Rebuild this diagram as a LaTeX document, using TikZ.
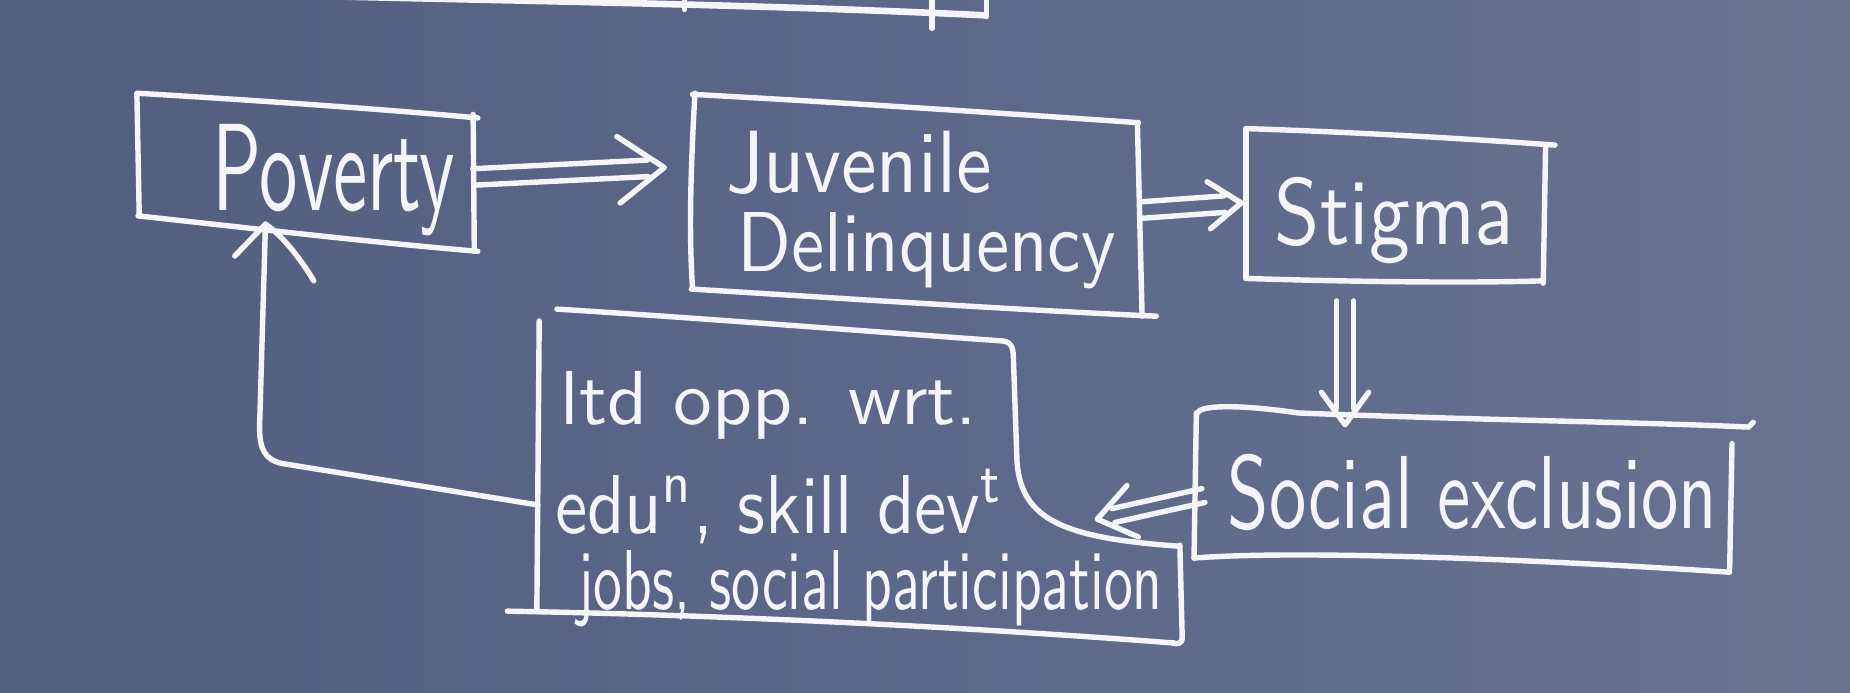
\documentclass[tikz,border=0pt]{standalone}
\usetikzlibrary{calc}
\definecolor{bgL}{HTML}{525E7E}
\definecolor{bgM}{HTML}{5B6889}
\definecolor{bgR}{HTML}{687390}
\definecolor{chalk}{HTML}{F4F5F8}
\tikzset{
  chalkline/.style={draw=chalk, line width=2.3pt, line cap=round, line join=round},
  lbl/.style={text=chalk, inner sep=0pt, anchor=base west, font=\sffamily},
}
\newcommand\hwtext[3]{\resizebox{#1pt}{#2pt}{#3}}
% double chalk arrow: from #1 to #2 (tip), half gap #3, head arm #4
\newcommand\chalkarrow[4]{%
  \coordinate (ca@end) at ($(#2)!7pt!(#1)$);
  \draw[chalkline] ($(#1)!#3!90:(#2)$) -- ($(ca@end)!#3!-90:(#1)$);
  \draw[chalkline] ($(#1)!#3!-90:(#2)$) -- ($(ca@end)!#3!90:(#1)$);
  \draw[chalkline] ($(#2)!#4!36:(#1)$) -- (#2) -- ($(#2)!#4!-36:(#1)$);
}
\begin{document}
\begin{tikzpicture}[x=0.5pt,y=-0.5pt]
\shade[left color=bgL, right color=bgR, middle color=bgM] (0,0) rectangle (1568,587);
\useasboundingbox (0,0) rectangle (1568,587);

% ---- partial box at the top edge
\draw[chalkline, line width=2.8pt] (285,-3) .. controls (450,1) and (650,4) .. (835,13);
\draw[chalkline] (836,-5) -- (836,14);
\draw[chalkline] (790,-2) -- (790,24);
\draw[chalkline] (580,-2) -- (580,8);

% ---- text nodes
\node[lbl] (pov)  at (180,178) {\hwtext{102.5}{36.5}{Poverty}};
\node[lbl] (juv1) at (615,163) {\hwtext{112.5}{26}{Juvenile}};
\node[lbl] (juv2) at (625,230) {\hwtext{160}{25}{Delinquency}};
\node[lbl] (stig) at (1080,207) {\hwtext{101.5}{28.5}{Stigma}};
\node[lbl] (soc)  at (1040,448) {\hwtext{207.5}{31.5}{Social exclusion}};
\node[lbl] (ltd1) at (475,360) {\hwtext{176.5}{22.5}{ltd opp. wrt.}};
\node[lbl] (ltd2) at (470,452) {\hwtext{190}{27}{edu\textsuperscript{n}, skill dev\textsuperscript{t}}};
\node[lbl] (ltd3) at (490,517) {\hwtext{247.5}{25}{jobs, social participation}};

% ---- hand-drawn boxes
% Poverty
\draw[chalkline] (118,182) -- (116,79) .. controls (200,84) and (320,92) .. (405,100);
\draw[chalkline] (401,97) -- (402,213);
\draw[chalkline] (117,183) .. controls (200,192) and (320,206) .. (405,213);
% Juvenile Delinquency
\draw[chalkline] (589,79) .. controls (585,150) and (584,200) .. (587,245);
\draw[chalkline] (587,80) .. controls (700,86) and (850,96) .. (965,104);
\draw[chalkline] (964,104) -- (968,268);
\draw[chalkline] (586,245) .. controls (700,252) and (850,262) .. (980,268);
% Stigma
\draw[chalkline] (1056,109) .. controls (1150,112) and (1250,118) .. (1318,123);
\draw[chalkline] (1056,109) -- (1056,236);
\draw[chalkline] (1310,123) -- (1308,240);
\draw[chalkline] (1056,236) .. controls (1150,239) and (1250,240) .. (1308,238);
% Social exclusion
\draw[chalkline] (1015,350) .. controls (1018,342) and (1060,344) .. (1100,350)
                 .. controls (1250,356) and (1400,358) .. (1482,362) -- (1486,358);
\draw[chalkline] (1014,350) -- (1012,473);
\draw[chalkline] (1468,376) -- (1466,482);
\draw[chalkline] (1012,473) .. controls (1100,466) and (1300,474) .. (1466,485);
% ltd box
\draw[chalkline] (457,272) -- (455,518);
\draw[chalkline] (472,262) .. controls (600,270) and (750,282) .. (850,289)
                 .. controls (858,290) and (859,296) .. (859,306)
                 -- (862,392) .. controls (866,440) and (900,456) .. (1000,463);
\draw[chalkline] (1000,462) -- (1002,540) .. controls (1002,546) and (998,546) .. (994,545);
\draw[chalkline] (430,518) .. controls (600,521) and (800,530) .. (995,545);

% ---- connectors
\coordinate (pvE) at (401,150);  \coordinate (jvW) at (563,142);
\chalkarrow{pvE}{jvW}{3.5pt}{24pt}
\coordinate (jvE) at (968,178);  \coordinate (stW) at (1052,172);
\chalkarrow{jvE}{stW}{3.5pt}{17pt}
\coordinate (stS) at (1140,255); \coordinate (soN) at (1140,360);
\chalkarrow{stS}{soN}{3.5pt}{17pt}
\coordinate (soW) at (1020,420); \coordinate (ltE) at (930,440);
\chalkarrow{soW}{ltE}{3pt}{19pt}
% feedback: ltd box -> Poverty
\coordinate (ltW) at (456,428);  \coordinate (pvS) at (225,190);
\draw[chalkline] (ltW) -- (240,393) .. controls (224,390) and (220,380) .. (220,362) -- (pvS);
\draw[chalkline] (199,217) -- (pvS) .. controls (240,200) and (255,220) .. (266,238);
\end{tikzpicture}
\end{document}
